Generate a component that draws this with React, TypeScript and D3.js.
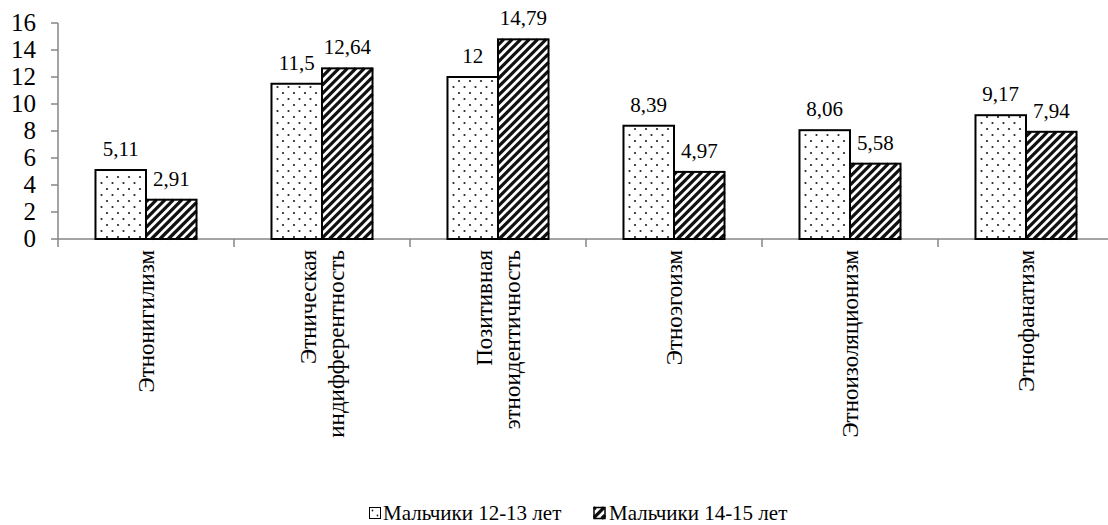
import React from "react";
import * as d3 from "d3";

const categories: string[][] = [
  ["Этнонигилизм"],
  ["Этническая", "индифферентность"],
  ["Позитивная", "этноидентичность"],
  ["Этноэгоизм"],
  ["Этноизоляционизм"],
  ["Этнофанатизм"],
];
const series = ["Мальчики 12-13 лет", "Мальчики 14-15 лет"];
const boys1213 = [5.11, 11.5, 12, 8.39, 8.06, 9.17];
const boys1415 = [2.91, 12.64, 14.79, 4.97, 5.58, 7.94];
const labels1213 = ["5,11", "11,5", "12", "8,39", "8,06", "9,17"];
const labels1415 = ["2,91", "12,64", "14,79", "4,97", "5,58", "7,94"];
const yTicks = [0, 2, 4, 6, 8, 10, 12, 14, 16];

const W = 1108;
const H = 525;
const FONT = "Liberation Serif";

type R = { x: number; y: number; w: number; h: number };

function Dots({ r, k }: { r: R; k: string }) {
  const out: React.ReactElement[] = [];
  const sx = 11;
  const sy = 12;
  for (let gy = Math.floor(r.y / sy) * sy; gy < r.y + r.h; gy += sy) {
    for (let gx = Math.floor(r.x / sx) * sx; gx < r.x + r.w; gx += sx) {
      const pts = [
        [gx + 2.5, gy + 3],
        [gx + 8, gy + 9],
      ];
      pts.forEach(([px, py], n) => {
        if (px > r.x + 1.5 && px < r.x + r.w - 1.5 && py > r.y + 1.5 && py < r.y + r.h - 1.5) {
          out.push(<circle key={`${k}-${gx}-${gy}-${n}`} cx={px} cy={py} r={1.1} fill="#222" />);
        }
      });
    }
  }
  return <g>{out}</g>;
}

function Hatch({ r, k }: { r: R; k: string }) {
  const out: React.ReactElement[] = [];
  const step = 6 * Math.SQRT2;
  const x0 = r.x, x1 = r.x + r.w, y0 = r.y, y1 = r.y + r.h;
  const cStart = Math.floor((x0 + y0) / step) * step;
  for (let c = cStart; c <= x1 + y1 + step; c += step) {
    const xa = Math.max(x0, c - y1);
    const xb = Math.min(x1, c - y0);
    if (xb <= xa) continue;
    out.push(
      <line
        key={`${k}-${c.toFixed(2)}`}
        x1={xa}
        y1={c - xa}
        x2={xb}
        y2={c - xb}
        stroke="#111"
        strokeWidth={3.2}
      />
    );
  }
  return <g>{out}</g>;
}

export default function App() {
  const x0 = d3
    .scaleBand<number>()
    .domain(categories.map((_, i) => i))
    .range([58, 1114])
    .paddingInner(0.426)
    .paddingOuter(0.213);
  const x1 = d3
    .scaleBand<number>()
    .domain([0, 1])
    .range([0, x0.bandwidth()]);
  const y = d3.scaleLinear().domain([0, 16]).range([239, 23]);
  const step = x0.step();
  const left = 58;
  const axisColor = "#868686";
  const values = [boys1213, boys1415];
  const labels = [labels1213, labels1415];
  const ts = (size: number) => ({ fontFamily: FONT, fontSize: size });

  return (
    <div style={{ fontFamily: "'Liberation Serif', 'Times New Roman', serif" }}>
      <svg
        width={W}
        height={H}
        style={{ position: "absolute", left: 0, top: 0, background: "#fff" }}
      >
        <style>{`text { font-family: 'Liberation Serif', 'Times New Roman', Tinos, serif; }`}</style>
        {/* axes */}
        <line x1={left} x2={W} y1={y(0)} y2={y(0)} stroke={axisColor} strokeWidth={1.5} />
        <line x1={left} x2={left} y1={y(16)} y2={y(0) + 8} stroke={axisColor} strokeWidth={1.5} />
        {yTicks.map((t) => (
          <g key={t}>
            <line x1={left - 7} x2={left} y1={y(t)} y2={y(t)} stroke={axisColor} strokeWidth={1.5} />
            <text x={36} y={y(t) + 8} textAnchor="end" style={ts(25)} fill="#000">
              {t}
            </text>
          </g>
        ))}
        {categories.map((_, i) => (
          <line
            key={i}
            x1={left + step * (i + 1)}
            x2={left + step * (i + 1)}
            y1={y(0)}
            y2={y(0) + 8}
            stroke={axisColor}
            strokeWidth={1.5}
          />
        ))}

        {/* bars */}
        {categories.map((_, i) => (
          <g key={i}>
            {[0, 1].map((s) => {
              const v = values[s][i];
              const bx = (x0(i) as number) + (x1(s) as number);
              const bw = x1.bandwidth();
              const r: R = { x: bx, y: y(v), w: bw, h: y(0) - y(v) };
              return (
                <g key={s}>
                  <rect x={r.x} y={r.y} width={r.w} height={r.h} fill="#fff" />
                  {s === 0 ? <Dots r={r} k={`d${i}`} /> : <Hatch r={r} k={`h${i}`} />}
                  <rect
                    x={r.x}
                    y={r.y}
                    width={r.w}
                    height={r.h}
                    fill="none"
                    stroke="#000"
                    strokeWidth={2}
                  />
                  <text
                    x={bx + bw / 2}
                    y={y(v) - 14}
                    textAnchor="middle"
                    style={ts(21)}
                    fill="#000"
                  >
                    {labels[s][i]}
                  </text>
                </g>
              );
            })}
          </g>
        ))}

        {/* category labels */}
        {categories.map((lines, i) => {
          const cx = (x0(i) as number) + x0.bandwidth() / 2;
          const lh = 27.5;
          const n = lines.length;
          return (
            <g key={i}>
              {lines.map((ln, j) => {
                const bx = cx + 8 + (j - (n - 1) / 2) * lh;
                return (
                  <text
                    key={j}
                    transform={`translate(${bx},250) rotate(-90)`}
                    textAnchor="end"
                    style={ts(23)}
                    fill="#000"
                  >
                    {ln}
                  </text>
                );
              })}
            </g>
          );
        })}

        {/* legend */}
        <g>
          <rect x={369.5} y={507.5} width={11} height={11} fill="#fff" stroke="#000" strokeWidth={1} />
          <circle cx={372.5} cy={510.5} r={0.9} fill="#222" />
          <circle cx={377.5} cy={515.5} r={0.9} fill="#222" />
          <text x={383} y={520} style={ts(21)} fill="#000">
            {series[0]}
          </text>
          <rect x={594} y={507.5} width={11} height={11} fill="#fff" />
          <Hatch r={{ x: 594, y: 507.5, w: 11, h: 11 }} k="lh" />
          <rect x={594} y={507.5} width={11} height={11} fill="none" stroke="#000" strokeWidth={1.5} />
          <text x={609} y={520} style={ts(21)} fill="#000">
            {series[1]}
          </text>
        </g>
      </svg>
    </div>
  );
}
